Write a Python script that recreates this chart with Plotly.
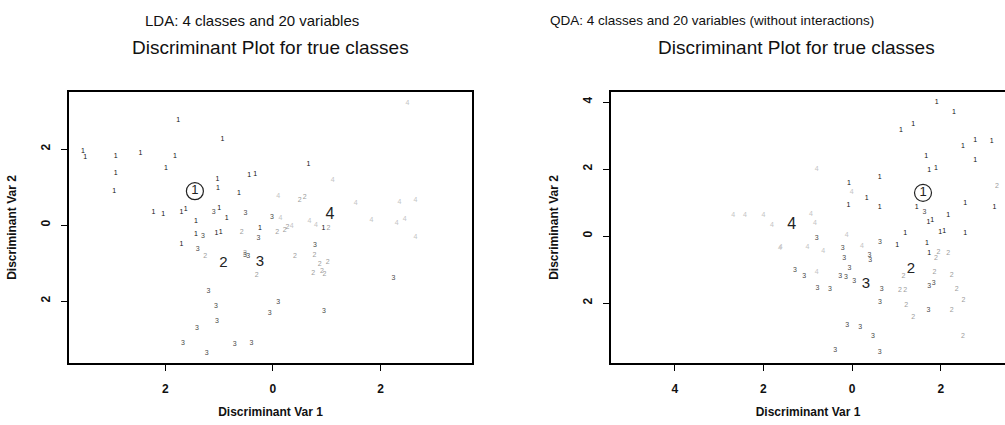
import plotly.graph_objects as go

# ---------------- data ----------------
class_labels = ["1", "2", "3", "4"]

# LDA panel
lda1_x = [-1.76, -0.94, -3.53, -3.49, -2.92, -2.46, -1.82, -2.92, -1.99, -2.95, -1.03, -0.44, -0.33,
          -1.02, -0.63, 0.66, -2.22, -2.04, -1.70, -1.62, -1.00, -0.86, -1.43, -1.43, -1.05, -0.97,
          -0.24, -1.70, 0.94]
lda1_y = [2.76, 2.25, 1.95, 1.79, 1.82, 1.89, 1.80, 1.36, 1.49, 0.89, 1.21, 1.30, 1.33,
          0.97, 0.83, 1.60, 0.33, 0.29, 0.33, 0.41, 0.44, 0.19, 0.09, -0.24, -0.22, -0.18,
          -0.09, -0.51, -0.09]
lda2_x = [1.03, 0.77, 0.87, 1.02, 0.75, 0.91, 0.96, 0.41, -0.30, -1.26, -0.52, 0.08, 0.22, 0.27,
          0.50, 0.59, -0.58]
lda2_y = [-0.09, -0.79, -1.03, -0.97, -1.27, -1.21, -1.30, -0.83, -1.32, -0.82, -0.75, -0.18, -0.13,
          -0.07, 0.66, 0.72, -0.18]
lda3_x = [-0.51, -0.02, -0.27, -1.30, -1.10, -1.40, -1.20, -0.06, -1.04, -0.40, 0.95, 0.78, 2.24,
          -0.52, -0.46, 0.10, -1.06, -1.41, -1.67, -0.71, -1.23]
lda3_y = [0.32, 0.20, -0.35, -0.29, 0.33, -0.63, -1.74, -2.32, -2.54, -3.10, -2.28, -0.53, -1.40,
          -0.79, -0.82, -2.02, -2.13, -2.72, -3.11, -3.13, -3.38]
lda4_x = [2.50, 1.11, 0.10, 1.54, 2.35, 2.65, 0.14, 0.68, 1.83, 2.30, 2.45, 0.35, 0.80, 2.65]
lda4_y = [3.20, 1.18, 0.76, 0.57, 0.60, 0.66, 0.19, 0.09, 0.13, 0.04, 0.15, -0.04, 0.00, -0.31]
lda_mean_x = [-1.45, -0.92, -0.24, 1.06]
lda_mean_y = [0.89, -1.01, -0.99, 0.26]

# QDA panel
qda1_x = [1.91, 2.30, 1.10, 1.38, 2.50, 2.78, 3.15, 1.67, 2.78, 1.74, 1.89, 0.62, -0.07, -0.08,
          0.33, 0.62, 1.46, 2.17, 2.55, 3.21, 1.72, 1.81, 1.20, 1.99, 2.08, 2.55, 1.02, 1.69, 1.74]
qda1_y = [3.98, 3.71, 3.16, 3.34, 2.69, 2.85, 2.82, 2.37, 2.25, 1.95, 2.02, 1.77, 1.59, 0.93,
          1.13, 0.87, 0.87, 0.63, 0.99, 0.87, 0.40, 0.48, 0.08, 0.10, 0.13, 0.08, -0.27, -0.22, -0.50]
qda2_x = [3.27, 1.95, 2.17, 1.89, 1.16, 1.86, 2.25, 1.08, 1.20, 2.36, 1.22, 2.51, 2.25, 1.38, 2.50]
qda2_y = [1.49, -0.47, -0.52, -0.67, -1.21, -1.07, -1.16, -1.61, -1.61, -1.59, -2.06, -1.93, -2.23,
          -2.43, -2.99]
qda3_x = [1.63, -0.80, -0.21, 0.63, 0.39, 0.41, -0.06, -0.27, -0.14, 0.05, -1.08, -0.78, -0.50,
          0.67, 1.74, 1.84, 0.63, 1.72, -0.11, 0.18, 0.47, -0.38, 0.62, -0.18, -1.29]
qda3_y = [0.72, -0.07, -0.37, -0.20, -0.57, -0.72, -0.96, -1.19, -1.23, -1.36, -1.19, -1.56, -1.59,
          -1.59, -1.51, -1.41, -1.99, -2.23, -2.66, -2.71, -2.99, -3.42, -3.48, -0.67, -1.01]
qda4_x = [-0.01, -0.80, -0.84, -1.81, -0.93, -0.12, -2.68, -2.42, -2.00, -1.63, -1.61, -1.01,
          -0.65, 0.22, -0.80]
qda4_y = [1.32, 1.99, 0.38, 0.33, 0.66, 0.03, 0.63, 0.63, 0.63, -0.37, -0.32, -0.32,
          -0.44, -0.30, -1.07]
qda_mean_x = [1.60, 1.33, 0.31, -1.36]
qda_mean_y = [1.29, -0.99, -1.43, 0.33]

lda_xtick_vals = [-2, 0, 2]
lda_xtick_text = ["2", "0", "2"]
lda_ytick_vals = [-2, 0, 2]
lda_ytick_text = ["2", "0", "2"]
qda_xtick_vals = [-4, -2, 0, 2]
qda_xtick_text = ["4", "2", "0", "2"]
qda_ytick_vals = [-2, 0, 2, 4]
qda_ytick_text = ["2", "0", "2", "4"]

# ---------------- styling ----------------
FONT = "Liberation Sans, Arial, Helvetica, sans-serif"
class_colors = ["#111111", "#9c9c9c", "#4a4a4a", "#c4c4c4"]
pt_size = 7
mean_sizes = [13, 15, 15, 16]

W, H = 1005, 425
def fx(px):
    return px / W
def fy(py):
    return 1 - py / H

fig = go.Figure()

panels = [
    ("x", "y", [(lda1_x, lda1_y), (lda2_x, lda2_y), (lda3_x, lda3_y), (lda4_x, lda4_y)],
     lda_mean_x, lda_mean_y),
    ("x2", "y2", [(qda1_x, qda1_y), (qda2_x, qda2_y), (qda3_x, qda3_y), (qda4_x, qda4_y)],
     qda_mean_x, qda_mean_y),
]

for xa, ya, groups, mx, my in panels:
    for k, (gx, gy) in enumerate(groups):
        fig.add_trace(go.Scatter(
            x=gx, y=gy, mode="text", text=[class_labels[k]] * len(gx),
            textfont=dict(family=FONT, size=pt_size, color=class_colors[k]),
            xaxis=xa, yaxis=ya, showlegend=False, hoverinfo="x+y"))
    # circle around class-1 mean
    fig.add_trace(go.Scatter(
        x=[mx[0]], y=[my[0]], mode="markers",
        marker=dict(symbol="circle-open", size=17, color="#222222", line=dict(width=1.2)),
        xaxis=xa, yaxis=ya, showlegend=False, hoverinfo="skip"))
    for k in range(4):
        fig.add_trace(go.Scatter(
            x=[mx[k]], y=[my[k]], mode="text", text=[class_labels[k]],
            textfont=dict(family=FONT, size=mean_sizes[k], color="#222222"),
            xaxis=xa, yaxis=ya, showlegend=False, hoverinfo="x+y"))

axis_common = dict(
    showgrid=False, zeroline=False, showline=True, linecolor="black", linewidth=1.5,
    ticks="outside", ticklen=6, tickwidth=1.2, tickcolor="black", automargin=False,
    tickfont=dict(family=FONT, size=12, color="#111111", weight="bold"),
)
title_font = dict(family=FONT, size=12, color="#111111", weight="bold")

fig.update_layout(
    width=W, height=H, margin=dict(l=0, r=0, t=0, b=0, autoexpand=False),
    paper_bgcolor="white", plot_bgcolor="white",
    xaxis=dict(axis_common, domain=[fx(69), fx(472)], range=[-3.79, 3.70], mirror=True,
               tickvals=lda_xtick_vals, ticktext=lda_xtick_text, ticklabelstandoff=8,
               title=dict(text="Discriminant Var 1", font=title_font, standoff=12), anchor="y"),
    yaxis=dict(axis_common, domain=[fy(363), fy(92)], range=[-3.63, 3.50], mirror=True,
               tickvals=lda_ytick_vals, ticktext=lda_ytick_text, tickangle=-90,
               ticklabelstandoff=6,
               title=dict(text="Discriminant Var 2", font=title_font, standoff=20), anchor="x"),
    xaxis2=dict(axis_common, domain=[fx(611), 1.0], range=[-5.44, 3.45], mirror=True,
                tickvals=qda_xtick_vals, ticktext=qda_xtick_text, ticklabelstandoff=8,
                title=dict(text="Discriminant Var 1", font=title_font, standoff=12), anchor="y2"),
    yaxis2=dict(axis_common, domain=[fy(363), fy(92)], range=[-3.79, 4.30], mirror=False,
                tickvals=qda_ytick_vals, ticktext=qda_ytick_text, tickangle=-90,
                ticklabelstandoff=6,
                title=dict(text="Discriminant Var 2", font=title_font, standoff=20), anchor="x2"),
)

titles = [
    ("LDA: 4 classes and 20 variables", 252, 20, 15),
    ("Discriminant Plot for true classes", 270, 48, 19),
    ("QDA: 4 classes and 20 variables (without interactions)", 712, 20, 13.5),
    ("Discriminant Plot for true classes", 796, 48, 19),
]
for txt, px, py, sz in titles:
    fig.add_annotation(text=txt, x=fx(px), y=fy(py), xref="paper", yref="paper",
                       xanchor="center", yanchor="middle", showarrow=False,
                       font=dict(family=FONT, size=sz, color="#111111"))

# remove the default 8px page margin so the figure sits at the window's top-left corner
fig.write_html("out.html", config={"displayModeBar": False},
               post_script="document.body.style.margin='0';document.body.style.overflow='hidden';")
